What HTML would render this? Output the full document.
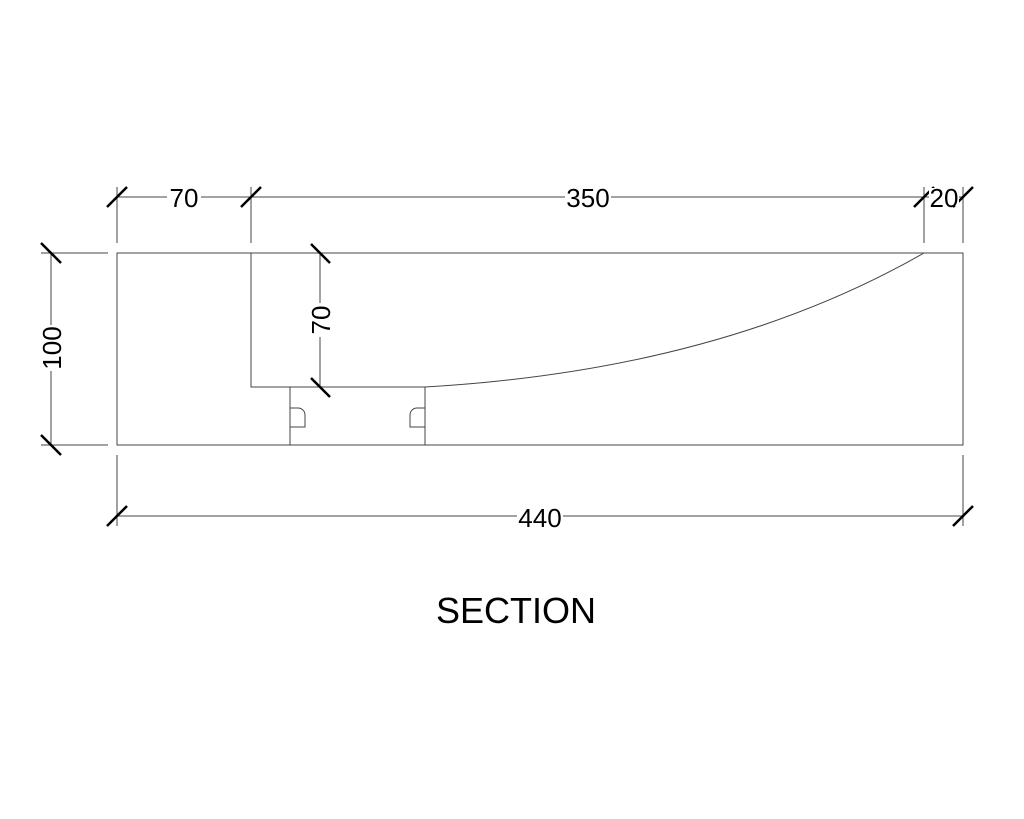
<!DOCTYPE html>
<html><head><style>html,body{margin:0;padding:0;background:#fff;width:1024px;height:819px;overflow:hidden}</style></head>
<body>
<svg width="1024" height="819" viewBox="0 0 1024 819" xmlns="http://www.w3.org/2000/svg" font-family="Liberation Sans, Arial, sans-serif">
<g stroke="#444" stroke-width="1" fill="none">
<rect x="117" y="253" width="846" height="192"/>
<polyline points="251,253 251,387 425,387"/>
<path d="M425,387 Q720,370 924,253"/>
<line x1="290" y1="387" x2="290" y2="445"/>
<line x1="425" y1="387" x2="425" y2="445"/>
<path d="M290,408 H298 A7,7 0 0 1 305,415 V427 H290"/>
<path d="M425,408 H417 A7,7 0 0 0 410,415 V427 H425"/>
<line x1="117" y1="197" x2="963" y2="197"/>
<line x1="117" y1="187" x2="117" y2="243"/>
<line x1="251" y1="187" x2="251" y2="243"/>
<line x1="924" y1="187" x2="924" y2="243"/>
<line x1="963" y1="187" x2="963" y2="243"/>
<line x1="51" y1="253" x2="51" y2="445"/>
<line x1="41" y1="253" x2="108" y2="253"/>
<line x1="41" y1="445" x2="108" y2="445"/>
<line x1="320" y1="253" x2="320" y2="387"/>
<line x1="117" y1="516" x2="963" y2="516"/>
<line x1="117" y1="455" x2="117" y2="526"/>
<line x1="963" y1="455" x2="963" y2="526"/>
</g>
<g stroke="#000" stroke-width="2.5">
<line x1="107" y1="207" x2="127" y2="187"/>
<line x1="241" y1="207" x2="261" y2="187"/>
<line x1="914" y1="207" x2="934" y2="187"/>
<line x1="953" y1="207" x2="973" y2="187"/>
<line x1="41" y1="243" x2="61" y2="263"/>
<line x1="41" y1="435" x2="61" y2="455"/>
<line x1="311" y1="244" x2="330" y2="263"/>
<line x1="311" y1="378" x2="330" y2="397"/>
<line x1="107" y1="526" x2="127" y2="506"/>
<line x1="953" y1="526" x2="973" y2="506"/>
</g>
<g font-size="26" fill="#000" text-anchor="middle">
<rect x="167" y="188" width="34" height="18" fill="#fff"/>
<text x="184" y="207">70</text>
<rect x="565" y="188" width="46" height="18" fill="#fff"/>
<text x="588" y="207">350</text>
<rect x="929" y="188" width="30" height="18" fill="#fff"/>
<text x="944" y="207">20</text>
<rect x="517" y="507" width="46" height="18" fill="#fff"/>
<text x="540" y="527">440</text>
<rect x="42" y="325" width="18" height="46" fill="#fff"/>
<text transform="translate(61,348) rotate(-90)">100</text>
<rect x="311" y="303" width="18" height="34" fill="#fff"/>
<text transform="translate(330,320) rotate(-90)">70</text>
<text x="516" y="623" font-size="36">SECTION</text>
</g>
</svg>
</body></html>
